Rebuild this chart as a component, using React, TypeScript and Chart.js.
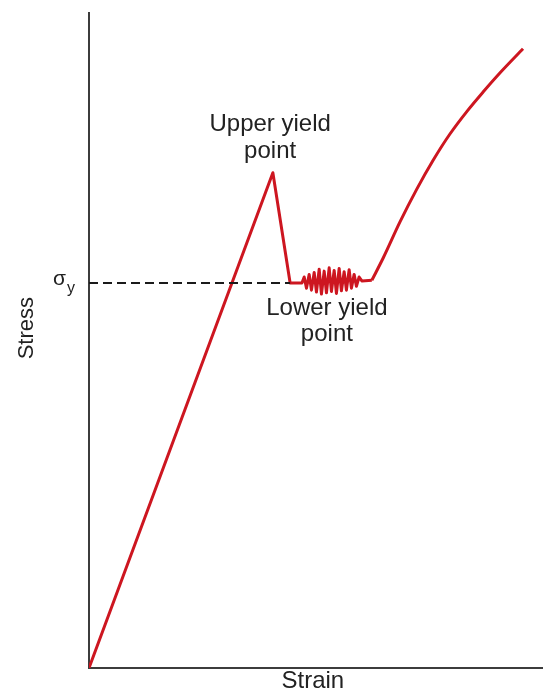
import React, { useEffect, useRef } from "react";
import { Chart, registerables } from "chart.js";

Chart.register(...registerables);

// Elastic part, upper/lower yield and Lüders band (arbitrary units, 0–100)
const yieldStrain = [
  0, 40.5, 44.3, 46.9,
  47.4, 47.9, 48.5, 49.0, 49.6, 50.1, 50.7, 51.2, 51.8, 52.3, 52.9, 53.4,
  54.0, 54.5, 55.1, 55.6, 56.2, 56.7, 57.3, 57.8, 58.4, 58.9, 59.5, 60.1,
  62.3,
];
const yieldStress = [
  0, 75.5, 58.7, 58.7,
  59.6, 57.9, 60.0, 57.6, 60.3, 57.3, 60.8, 57.0, 60.5, 57.2, 61.0, 57.4,
  60.6, 57.1, 60.9, 57.5, 60.4, 57.6, 60.7, 57.9, 60.0, 58.2, 59.6, 59.0,
  59.1,
];
// Strain hardening part
const hardStrain = [62.3, 64.8, 68.5, 72.2, 75.8, 79.5, 83.3, 86.8, 90.5, 95.6];
const hardStress = [59.1, 62.5, 68.0, 73.0, 77.4, 81.4, 84.9, 87.8, 90.7, 94.4];

// Yield stress reference line
const sigmaY = 58.7;
const dashStrain = [0, 44.3];

// Text labels with [strain, stress line 1, stress line 2] anchors
const upperLabel = ["Upper yield", "point"];
const upperAnchor = [39.9, 82.8, 78.7];
const lowerLabel = ["Lower yield", "point"];
const lowerAnchor = [52.4, 54.8, 50.8];
const xTitle = "Strain";
const yTitle = "Stress";

const FONT = '"Liberation Sans", Arial, sans-serif';
const TEXT = "#222222";
const RED = "rgb(205,22,32)";

const overlay = {
  id: "overlay",
  beforeDatasetsDraw(chart: any) {
    const { ctx, scales } = chart;
    const xs = scales.x;
    const ys = scales.y;
    const x0 = xs.getPixelForValue(0);
    const y0 = ys.getPixelForValue(0);
    ctx.save();
    ctx.strokeStyle = "#3c3c3c";
    ctx.lineWidth = 2;
    ctx.beginPath();
    ctx.moveTo(x0, ys.getPixelForValue(100));
    ctx.lineTo(x0, y0);
    ctx.lineTo(xs.getPixelForValue(100), y0);
    ctx.stroke();
    ctx.restore();
  },
  afterDraw(chart: any) {
    const { ctx, scales } = chart;
    const xs = scales.x;
    const ys = scales.y;
    ctx.save();
    ctx.fillStyle = TEXT;
    ctx.textAlign = "center";
    ctx.textBaseline = "middle";
    ctx.font = `24px ${FONT}`;
    const ux = xs.getPixelForValue(upperAnchor[0]);
    ctx.fillText(upperLabel[0], ux, ys.getPixelForValue(upperAnchor[1]));
    ctx.fillText(upperLabel[1], ux, ys.getPixelForValue(upperAnchor[2]));
    const lx = xs.getPixelForValue(lowerAnchor[0]);
    ctx.fillText(lowerLabel[0], lx, ys.getPixelForValue(lowerAnchor[1]));
    ctx.fillText(lowerLabel[1], lx, ys.getPixelForValue(lowerAnchor[2]));

    // x title
    ctx.fillText(xTitle, xs.getPixelForValue(49.3), ys.getPixelForValue(-2.1));

    // y title (rotated)
    ctx.save();
    ctx.translate(xs.getPixelForValue(-13.7), ys.getPixelForValue(51.8));
    ctx.rotate(-Math.PI / 2);
    ctx.font = `22px ${FONT}`;
    ctx.fillText(yTitle, 0, 0);
    ctx.restore();

    // sigma_y label
    const sx = xs.getPixelForValue(-6.4);
    const sy = ys.getPixelForValue(sigmaY);
    ctx.textAlign = "right";
    ctx.font = `21px ${FONT}`;
    ctx.fillText("σ", sx + 6, sy - 4);
    ctx.textAlign = "left";
    ctx.font = `16px ${FONT}`;
    ctx.fillText("y", sx + 7, sy + 6);
    ctx.restore();
  },
};

export default function App() {
  const ref = useRef<HTMLCanvasElement | null>(null);
  useEffect(() => {
    if (!ref.current) return;
    const chart = new Chart(ref.current, {
      type: "line",
      data: {
        datasets: [
          {
            label: "σy",
            data: dashStrain.map((x) => ({ x, y: sigmaY })),
            borderColor: "#1a1a1a",
            borderWidth: 2,
            borderDash: [9, 5],
            pointRadius: 0,
            fill: false,
          },
          {
            label: "Yielding",
            data: yieldStrain.map((x, i) => ({ x, y: yieldStress[i] })),
            borderColor: RED,
            borderWidth: 3,
            pointRadius: 0,
            tension: 0,
            fill: false,
            borderJoinStyle: "round",
          },
          {
            label: "Hardening",
            data: hardStrain.map((x, i) => ({ x, y: hardStress[i] })),
            borderColor: RED,
            borderWidth: 3,
            pointRadius: 0,
            cubicInterpolationMode: "monotone",
            fill: false,
            borderJoinStyle: "round",
          },
        ],
      },
      options: {
        responsive: false,
        animation: false,
        layout: { padding: { left: 89, top: 12, right: 6, bottom: 27 } },
        plugins: { legend: { display: false }, tooltip: { enabled: false } },
        scales: {
          x: { type: "linear", min: 0, max: 100, display: false },
          y: { type: "linear", min: 0, max: 100, display: false },
        },
      },
      plugins: [overlay],
    });
    return () => chart.destroy();
  }, []);
  return (
    <div style={{ position: "absolute", left: 0, top: 0, width: 549, height: 695, background: "#fff" }}>
      <canvas ref={ref} width={549} height={695} style={{ display: "block" }} />
    </div>
  );
}
